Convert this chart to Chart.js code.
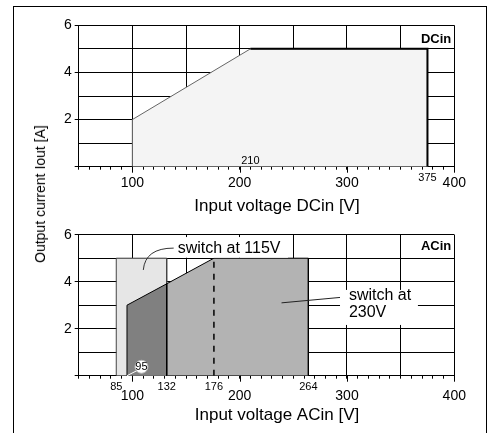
<!DOCTYPE html>
<html>
<head>
<meta charset="utf-8">
<script src="https://cdn.jsdelivr.net/npm/chart.js@4.4.1/dist/chart.umd.min.js"></script>
<style>
  html, body { margin: 0; padding: 0; background: #fff; }
  #wrap { position: relative; width: 488px; height: 433px; overflow: hidden; }
  #frame { position: absolute; left: 13px; top: 6px; width: 474px; height: 440px; border: 1.5px solid #000; box-sizing: border-box; }
  canvas { position: absolute; left: 0; }
  #ytitle { position: absolute; left: 40px; top: 194px; transform: translate(-50%, -50%) rotate(-90deg);
            white-space: nowrap; font: 14px "Liberation Sans", Arial, sans-serif; color: #000; }
</style>
</head>
<body>
<div id="wrap">
  <div id="frame"></div>
  <canvas id="dcChart" width="488" height="220" style="top:0"></canvas>
  <canvas id="acChart" width="488" height="213" style="top:220px"></canvas>
  <div id="ytitle">Output current Iout [A]</div>
</div>
<script>
// derating curves
const dcVoltage = [100, 100, 210, 375, 375];
const dcCurrent = [0, 2, 5, 5, 0];
const dcEdgeVoltage = [210, 375, 375];   // heavy outline, top and right
const dcEdgeCurrent = [5, 5, 0];

const acWideVoltage = [85, 85, 132, 132];     // switch at 115V, light area
const acWideCurrent = [0, 5, 5, 0];
const ac230Voltage = [132, 132, 176, 264, 264];
const ac230Current = [0, 3.91, 5, 5, 0];
const ac115Voltage = [95, 95, 132, 132];
const ac115Current = [0, 3, 3.91, 0];
const switchVoltage = [176, 176];
const switchCurrent = [0, 5];

const xTickLabels = [100, 200, 300, 400];
const yTickLabels = [2, 4, 6];
const dcMarks = [210, 375];
const acMarks = [85, 132, 176, 264];

const FONT = '"Liberation Sans", Arial, sans-serif';
const pts = (xs, ys) => xs.map((x, i) => ({ x: x, y: ys[i] }));

function baseOptions(pad, xAxisHeight, tickPad) {
  return {
    responsive: false,
    animation: false,
    layout: { padding: pad },
    plugins: { legend: { display: false }, tooltip: { enabled: false } },
    elements: { point: { radius: 0 }, line: { tension: 0 } },
    scales: {
      x: {
        type: 'linear', min: 50, max: 400,
        afterFit: s => { s.height = xAxisHeight; },
        ticks: {
          stepSize: 10, autoSkip: false, maxRotation: 0, padding: tickPad,
          color: '#000', font: { family: FONT, size: 14 },
          callback: v => xTickLabels.includes(v) ? String(v) : ''
        },
        grid: {
          color: c => (c.tick && c.tick.value % 50 === 0) ? '#000' : 'rgba(0,0,0,0)',
          tickColor: '#000', tickLength: 3
        },
        border: { color: '#000' }
      },
      y: {
        min: 0, max: 6,
        afterFit: s => { s.width = 78.7; },
        ticks: {
          stepSize: 1, padding: 3, color: '#000', font: { family: FONT, size: 14 },
          callback: v => yTickLabels.includes(v) ? String(v) : ''
        },
        grid: {
          color: '#000',
          tickColor: c => (c.tick && c.tick.value % 2 === 0) ? '#000' : 'rgba(0,0,0,0)',
          tickLength: 4
        },
        border: { color: '#000' }
      }
    }
  };
}

function text(ctx, str, x, y, size, align, bold) {
  ctx.font = (bold ? 'bold ' : '') + size + 'px ' + FONT;
  ctx.textAlign = align || 'center';
  ctx.textBaseline = 'middle';
  ctx.fillStyle = '#000';
  ctx.fillText(str, x, y);
}

// longer tick marks under the labelled voltages
function majorTicks(ctx, x, y) {
  ctx.strokeStyle = '#000';
  ctx.lineWidth = 1;
  ctx.beginPath();
  xTickLabels.forEach(v => {
    const p = Math.round(x.getPixelForValue(v)) + 0.5;
    ctx.moveTo(p, y.getPixelForValue(0));
    ctx.lineTo(p, y.getPixelForValue(0) + 6);
  });
  ctx.stroke();
}

// DCin
const dcLabels = {
  id: 'dcLabels',
  afterDraw(chart) {
    const { ctx, chartArea, scales: { x, y } } = chart;
    ctx.save();
    majorTicks(ctx, x, y);
    text(ctx, String(dcMarks[0]), x.getPixelForValue(dcMarks[0]), y.getPixelForValue(0) - 6, 11);
    text(ctx, String(dcMarks[1]), x.getPixelForValue(dcMarks[1]), y.getPixelForValue(0) + 11.5, 11);
    text(ctx, 'DCin', chartArea.right - 3, y.getPixelForValue(5.4), 13, 'right', true);
    text(ctx, 'Input voltage DCin [V]', (chartArea.left + chartArea.right) / 2 + 10.5, 206.7, 17);
    ctx.restore();
  }
};

new Chart(document.getElementById('dcChart').getContext('2d'), {
  type: 'line',
  data: {
    datasets: [
      { data: pts(dcEdgeVoltage, dcEdgeCurrent), fill: false, borderColor: '#000', borderWidth: 2, order: 0 },
      { data: pts(dcVoltage, dcCurrent), fill: 'origin', backgroundColor: '#f4f4f4', borderColor: '#666', borderWidth: 1, order: 1 }
    ]
  },
  options: baseOptions({ left: 0, top: 25.3, right: 33.7, bottom: 0 }, 53.3, 5),
  plugins: [dcLabels]
});

// ACin
const acLabels = {
  id: 'acLabels',
  afterDatasetsDraw(chart) {
    const { ctx, chartArea, scales: { x, y } } = chart;
    const px = v => x.getPixelForValue(v);
    const py = v => y.getPixelForValue(v);
    ctx.save();

    // switch at 115V
    ctx.fillStyle = '#fff';
    ctx.fillRect(px(137), py(5.9), px(245) - px(137), py(5.02) - py(5.9));
    text(ctx, 'switch at 115V', px(142.2), py(5.43), 16, 'left');
    ctx.strokeStyle = '#333';
    ctx.lineWidth = 1;
    ctx.beginPath();
    ctx.moveTo(px(110.2), py(4.5));
    ctx.quadraticCurveTo(px(112), py(5.43), px(138.5), py(5.43));
    ctx.stroke();

    // switch at 230V
    ctx.fillStyle = '#fff';
    ctx.fillRect(px(293.5), py(3.65), px(366.1) - px(293.5), py(2.16) - py(3.65));
    text(ctx, 'switch at', px(301.8), py(3.39), 16, 'left');
    text(ctx, '230V', px(301.8), py(2.68), 16, 'left');
    ctx.strokeStyle = '#222';
    ctx.beginPath();
    ctx.moveTo(px(239), py(3.1));
    ctx.lineTo(px(293.5), py(3.33));
    ctx.stroke();

    // 95 V marker
    ctx.strokeStyle = '#fff';
    ctx.beginPath();
    ctx.moveTo(px(95), py(0));
    ctx.lineTo(px(104.5), py(0.22));
    ctx.stroke();
    ctx.fillStyle = '#fff';
    ctx.strokeStyle = '#bbb';
    ctx.beginPath();
    ctx.arc(px(108.5), py(0.38), 6.5, 0, Math.PI * 2);
    ctx.fill();
    ctx.stroke();
    text(ctx, '95', px(108.5), py(0.38), 11);

    text(ctx, 'ACin', chartArea.right - 3, py(5.5), 13, 'right', true);
    ctx.restore();
  },
  afterDraw(chart) {
    const { ctx, chartArea, scales: { x, y } } = chart;
    ctx.save();
    majorTicks(ctx, x, y);
    acMarks.forEach(v => text(ctx, String(v), x.getPixelForValue(v), y.getPixelForValue(0) + 11, 11));
    text(ctx, 'Input voltage ACin [V]', (chartArea.left + chartArea.right) / 2 + 10.5, 195, 17);
    ctx.restore();
  }
};

new Chart(document.getElementById('acChart').getContext('2d'), {
  type: 'line',
  data: {
    datasets: [
      { data: pts(switchVoltage, switchCurrent), fill: false, borderColor: '#000', borderWidth: 1.5, borderDash: [6, 6], order: 0 },
      { data: pts(ac115Voltage, ac115Current), fill: 'origin', backgroundColor: '#808080', borderColor: '#000', borderWidth: 1, order: 1 },
      { data: pts(ac230Voltage, ac230Current), fill: 'origin', backgroundColor: '#b3b3b3', borderColor: '#000', borderWidth: 1, order: 2 },
      { data: pts(acWideVoltage, acWideCurrent), fill: 'origin', backgroundColor: '#e6e6e6', borderColor: '#444', borderWidth: 1, order: 3 }
    ]
  },
  options: baseOptions({ left: 0, top: 14.7, right: 33.7, bottom: 0 }, 57.3, 9),
  plugins: [acLabels]
});
</script>
</body>
</html>
